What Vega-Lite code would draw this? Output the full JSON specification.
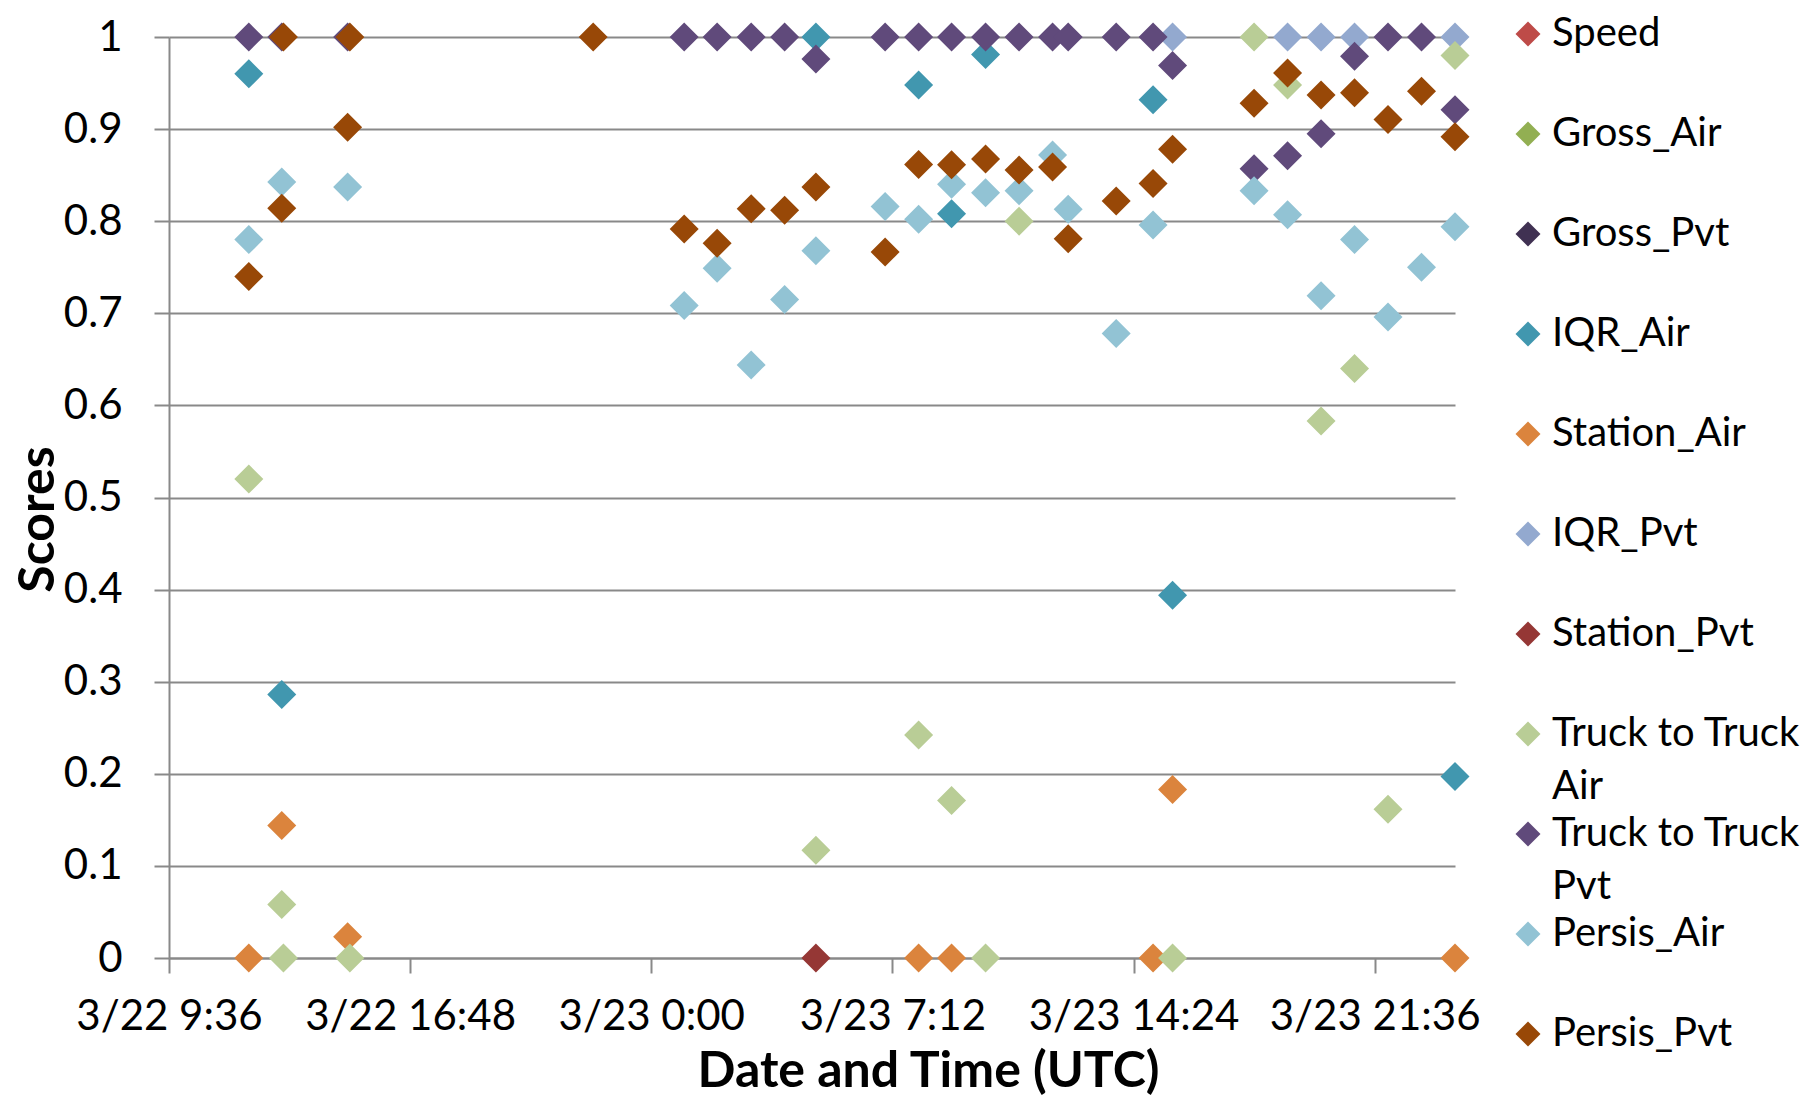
{
  "$schema": "https://vega.github.io/schema/vega-lite/v6.json",
  "width": 1286,
  "height": 921,
  "autosize": {"type": "none"},
  "padding": {"left": 169, "top": 37, "right": 361, "bottom": 138},
  "background": "white",
  "config": {"view": {"stroke": null}, "font": "Lato"},
  "data": {"values": [
    {"t": "2013-03-22T11:59:00Z", "series": "IQR_Air", "score": 0.96},
    {"t": "2013-03-22T12:58:00Z", "series": "IQR_Air", "score": 0.286},
    {"t": "2013-03-23T04:55:00Z", "series": "IQR_Air", "score": 1.0},
    {"t": "2013-03-23T07:59:00Z", "series": "IQR_Air", "score": 0.948},
    {"t": "2013-03-23T08:58:00Z", "series": "IQR_Air", "score": 0.808},
    {"t": "2013-03-23T09:59:00Z", "series": "IQR_Air", "score": 0.981},
    {"t": "2013-03-23T14:59:00Z", "series": "IQR_Air", "score": 0.932},
    {"t": "2013-03-23T15:34:00Z", "series": "IQR_Air", "score": 0.394},
    {"t": "2013-03-24T00:00:00Z", "series": "IQR_Air", "score": 0.197},

    {"t": "2013-03-22T11:59:00Z", "series": "Station_Air", "score": 0},
    {"t": "2013-03-22T12:58:00Z", "series": "Station_Air", "score": 0.144},
    {"t": "2013-03-22T14:56:00Z", "series": "Station_Air", "score": 0.023},
    {"t": "2013-03-23T07:59:00Z", "series": "Station_Air", "score": 0},
    {"t": "2013-03-23T08:58:00Z", "series": "Station_Air", "score": 0},
    {"t": "2013-03-23T14:59:00Z", "series": "Station_Air", "score": 0},
    {"t": "2013-03-23T15:34:00Z", "series": "Station_Air", "score": 0.183},
    {"t": "2013-03-24T00:00:00Z", "series": "Station_Air", "score": 0},

    {"t": "2013-03-23T15:34:00Z", "series": "IQR_Pvt", "score": 1.0},
    {"t": "2013-03-23T19:00:00Z", "series": "IQR_Pvt", "score": 1.0},
    {"t": "2013-03-23T20:00:00Z", "series": "IQR_Pvt", "score": 1.0},
    {"t": "2013-03-23T21:00:00Z", "series": "IQR_Pvt", "score": 1.0},
    {"t": "2013-03-24T00:00:00Z", "series": "IQR_Pvt", "score": 1.0},

    {"t": "2013-03-23T04:55:00Z", "series": "Station_Pvt", "score": 0},

    {"t": "2013-03-22T11:59:00Z", "series": "Truck to Truck Air", "score": 0.52},
    {"t": "2013-03-22T12:58:00Z", "series": "Truck to Truck Air", "score": 0.058},
    {"t": "2013-03-22T13:01:00Z", "series": "Truck to Truck Air", "score": 0},
    {"t": "2013-03-22T15:00:00Z", "series": "Truck to Truck Air", "score": 0},
    {"t": "2013-03-23T04:55:00Z", "series": "Truck to Truck Air", "score": 0.117},
    {"t": "2013-03-23T07:59:00Z", "series": "Truck to Truck Air", "score": 0.242},
    {"t": "2013-03-23T08:58:00Z", "series": "Truck to Truck Air", "score": 0.171},
    {"t": "2013-03-23T09:59:00Z", "series": "Truck to Truck Air", "score": 0},
    {"t": "2013-03-23T10:59:00Z", "series": "Truck to Truck Air", "score": 0.8},
    {"t": "2013-03-23T15:34:00Z", "series": "Truck to Truck Air", "score": 0},
    {"t": "2013-03-23T18:00:00Z", "series": "Truck to Truck Air", "score": 1.0},
    {"t": "2013-03-23T19:00:00Z", "series": "Truck to Truck Air", "score": 0.948},
    {"t": "2013-03-23T20:00:00Z", "series": "Truck to Truck Air", "score": 0.583},
    {"t": "2013-03-23T21:00:00Z", "series": "Truck to Truck Air", "score": 0.64},
    {"t": "2013-03-23T22:00:00Z", "series": "Truck to Truck Air", "score": 0.1615},
    {"t": "2013-03-24T00:00:00Z", "series": "Truck to Truck Air", "score": 0.98},

    {"t": "2013-03-22T11:59:00Z", "series": "Truck to Truck Pvt", "score": 1.0},
    {"t": "2013-03-22T12:58:00Z", "series": "Truck to Truck Pvt", "score": 1.0},
    {"t": "2013-03-22T14:56:00Z", "series": "Truck to Truck Pvt", "score": 1.0},
    {"t": "2013-03-23T00:59:00Z", "series": "Truck to Truck Pvt", "score": 1.0},
    {"t": "2013-03-23T01:58:00Z", "series": "Truck to Truck Pvt", "score": 1.0},
    {"t": "2013-03-23T02:59:00Z", "series": "Truck to Truck Pvt", "score": 1.0},
    {"t": "2013-03-23T03:59:00Z", "series": "Truck to Truck Pvt", "score": 1.0},
    {"t": "2013-03-23T04:55:00Z", "series": "Truck to Truck Pvt", "score": 0.976},
    {"t": "2013-03-23T06:59:00Z", "series": "Truck to Truck Pvt", "score": 1.0},
    {"t": "2013-03-23T07:59:00Z", "series": "Truck to Truck Pvt", "score": 1.0},
    {"t": "2013-03-23T08:58:00Z", "series": "Truck to Truck Pvt", "score": 1.0},
    {"t": "2013-03-23T09:59:00Z", "series": "Truck to Truck Pvt", "score": 1.0},
    {"t": "2013-03-23T10:59:00Z", "series": "Truck to Truck Pvt", "score": 1.0},
    {"t": "2013-03-23T11:59:00Z", "series": "Truck to Truck Pvt", "score": 1.0},
    {"t": "2013-03-23T12:27:00Z", "series": "Truck to Truck Pvt", "score": 1.0},
    {"t": "2013-03-23T13:53:00Z", "series": "Truck to Truck Pvt", "score": 1.0},
    {"t": "2013-03-23T14:59:00Z", "series": "Truck to Truck Pvt", "score": 1.0},
    {"t": "2013-03-23T15:34:00Z", "series": "Truck to Truck Pvt", "score": 0.969},
    {"t": "2013-03-23T18:00:00Z", "series": "Truck to Truck Pvt", "score": 0.857},
    {"t": "2013-03-23T19:00:00Z", "series": "Truck to Truck Pvt", "score": 0.871},
    {"t": "2013-03-23T20:00:00Z", "series": "Truck to Truck Pvt", "score": 0.895},
    {"t": "2013-03-23T21:00:00Z", "series": "Truck to Truck Pvt", "score": 0.979},
    {"t": "2013-03-23T22:00:00Z", "series": "Truck to Truck Pvt", "score": 1.0},
    {"t": "2013-03-23T23:00:00Z", "series": "Truck to Truck Pvt", "score": 1.0},
    {"t": "2013-03-24T00:00:00Z", "series": "Truck to Truck Pvt", "score": 0.921},

    {"t": "2013-03-22T11:59:00Z", "series": "Persis_Air", "score": 0.78},
    {"t": "2013-03-22T12:58:00Z", "series": "Persis_Air", "score": 0.8425},
    {"t": "2013-03-22T14:56:00Z", "series": "Persis_Air", "score": 0.837},
    {"t": "2013-03-23T00:59:00Z", "series": "Persis_Air", "score": 0.7085},
    {"t": "2013-03-23T01:58:00Z", "series": "Persis_Air", "score": 0.749},
    {"t": "2013-03-23T02:59:00Z", "series": "Persis_Air", "score": 0.644},
    {"t": "2013-03-23T03:59:00Z", "series": "Persis_Air", "score": 0.715},
    {"t": "2013-03-23T04:55:00Z", "series": "Persis_Air", "score": 0.768},
    {"t": "2013-03-23T06:59:00Z", "series": "Persis_Air", "score": 0.816},
    {"t": "2013-03-23T07:59:00Z", "series": "Persis_Air", "score": 0.802},
    {"t": "2013-03-23T08:58:00Z", "series": "Persis_Air", "score": 0.84},
    {"t": "2013-03-23T09:59:00Z", "series": "Persis_Air", "score": 0.831},
    {"t": "2013-03-23T10:59:00Z", "series": "Persis_Air", "score": 0.833},
    {"t": "2013-03-23T11:59:00Z", "series": "Persis_Air", "score": 0.872},
    {"t": "2013-03-23T12:27:00Z", "series": "Persis_Air", "score": 0.813},
    {"t": "2013-03-23T13:53:00Z", "series": "Persis_Air", "score": 0.678},
    {"t": "2013-03-23T14:59:00Z", "series": "Persis_Air", "score": 0.796},
    {"t": "2013-03-23T18:00:00Z", "series": "Persis_Air", "score": 0.833},
    {"t": "2013-03-23T19:00:00Z", "series": "Persis_Air", "score": 0.807},
    {"t": "2013-03-23T20:00:00Z", "series": "Persis_Air", "score": 0.719},
    {"t": "2013-03-23T21:00:00Z", "series": "Persis_Air", "score": 0.78},
    {"t": "2013-03-23T22:00:00Z", "series": "Persis_Air", "score": 0.696},
    {"t": "2013-03-23T23:00:00Z", "series": "Persis_Air", "score": 0.75},
    {"t": "2013-03-24T00:00:00Z", "series": "Persis_Air", "score": 0.794},

    {"t": "2013-03-22T11:59:00Z", "series": "Persis_Pvt", "score": 0.74},
    {"t": "2013-03-22T12:58:00Z", "series": "Persis_Pvt", "score": 0.814},
    {"t": "2013-03-22T13:01:00Z", "series": "Persis_Pvt", "score": 1.0},
    {"t": "2013-03-22T14:56:00Z", "series": "Persis_Pvt", "score": 0.902},
    {"t": "2013-03-22T15:00:00Z", "series": "Persis_Pvt", "score": 1.0},
    {"t": "2013-03-22T22:16:00Z", "series": "Persis_Pvt", "score": 1.0},
    {"t": "2013-03-23T00:59:00Z", "series": "Persis_Pvt", "score": 0.7915},
    {"t": "2013-03-23T01:58:00Z", "series": "Persis_Pvt", "score": 0.776},
    {"t": "2013-03-23T02:59:00Z", "series": "Persis_Pvt", "score": 0.8135},
    {"t": "2013-03-23T03:59:00Z", "series": "Persis_Pvt", "score": 0.812},
    {"t": "2013-03-23T04:55:00Z", "series": "Persis_Pvt", "score": 0.837},
    {"t": "2013-03-23T06:59:00Z", "series": "Persis_Pvt", "score": 0.7665},
    {"t": "2013-03-23T07:59:00Z", "series": "Persis_Pvt", "score": 0.8616},
    {"t": "2013-03-23T08:58:00Z", "series": "Persis_Pvt", "score": 0.8613},
    {"t": "2013-03-23T09:59:00Z", "series": "Persis_Pvt", "score": 0.8675},
    {"t": "2013-03-23T10:59:00Z", "series": "Persis_Pvt", "score": 0.8555},
    {"t": "2013-03-23T11:59:00Z", "series": "Persis_Pvt", "score": 0.8588},
    {"t": "2013-03-23T12:27:00Z", "series": "Persis_Pvt", "score": 0.781},
    {"t": "2013-03-23T13:53:00Z", "series": "Persis_Pvt", "score": 0.822},
    {"t": "2013-03-23T14:59:00Z", "series": "Persis_Pvt", "score": 0.841},
    {"t": "2013-03-23T15:34:00Z", "series": "Persis_Pvt", "score": 0.878},
    {"t": "2013-03-23T18:00:00Z", "series": "Persis_Pvt", "score": 0.928},
    {"t": "2013-03-23T19:00:00Z", "series": "Persis_Pvt", "score": 0.961},
    {"t": "2013-03-23T20:00:00Z", "series": "Persis_Pvt", "score": 0.937},
    {"t": "2013-03-23T21:00:00Z", "series": "Persis_Pvt", "score": 0.9395},
    {"t": "2013-03-23T22:00:00Z", "series": "Persis_Pvt", "score": 0.9105},
    {"t": "2013-03-23T23:00:00Z", "series": "Persis_Pvt", "score": 0.941},
    {"t": "2013-03-24T00:00:00Z", "series": "Persis_Pvt", "score": 0.8917}
  ]},
  "mark": {"type": "point", "shape": "diamond", "filled": true, "size": 841, "opacity": 1, "strokeWidth": 0},
  "encoding": {
    "x": {
      "field": "t",
      "type": "temporal",
      "scale": {
        "type": "utc",
        "nice": false,
        "domain": [
          {"year": 2013, "month": 3, "date": 22, "hours": 9, "minutes": 36, "utc": true},
          {"year": 2013, "month": 3, "date": 24, "hours": 0, "minutes": 0, "utc": true}
        ]
      },
      "axis": {
        "values": [
          {"year": 2013, "month": 3, "date": 22, "hours": 9, "minutes": 36, "utc": true},
          {"year": 2013, "month": 3, "date": 22, "hours": 16, "minutes": 48, "utc": true},
          {"year": 2013, "month": 3, "date": 23, "hours": 0, "minutes": 0, "utc": true},
          {"year": 2013, "month": 3, "date": 23, "hours": 7, "minutes": 12, "utc": true},
          {"year": 2013, "month": 3, "date": 23, "hours": 14, "minutes": 24, "utc": true},
          {"year": 2013, "month": 3, "date": 23, "hours": 21, "minutes": 36, "utc": true}
        ],
        "labelExpr": "utcFormat(datum.value, '%-m/%-d %-H:%M')",
        "grid": false,
        "domainColor": "#898989",
        "domainWidth": 2,
        "tickColor": "#898989",
        "tickWidth": 2,
        "tickSize": 15,
        "labelFont": "Lato",
        "labelFontSize": 42,
        "labelColor": "black",
        "labelPadding": 23,
        "labelLimit": 400,
        "labelOverlap": false,
        "labelFlush": false,
        "title": "Date and Time (UTC)",
        "titleFont": "Lato",
        "titleFontSize": 50,
        "titleFontWeight": "bold",
        "titleColor": "black",
        "titleX": 759,
        "titleY": 128,
        "titleAlign": "center",
        "titleBaseline": "alphabetic"
      }
    },
    "y": {
      "field": "score",
      "type": "quantitative",
      "scale": {"domain": [0, 1], "nice": false, "zero": false},
      "axis": {
        "values": [0, 0.1, 0.2, 0.3, 0.4, 0.5, 0.6, 0.7, 0.8, 0.9, 1],
        "format": "~g",
        "grid": true,
        "gridColor": "#898989",
        "gridWidth": 2,
        "domainColor": "#898989",
        "domainWidth": 2,
        "tickColor": "#898989",
        "tickWidth": 2,
        "tickSize": 15,
        "labelFont": "Lato",
        "labelFontSize": 42,
        "labelColor": "black",
        "labelPadding": 32,
        "title": "Scores",
        "titleFont": "Lato",
        "titleFontSize": 50,
        "titleFontWeight": "bold",
        "titleColor": "black",
        "titleX": -131,
        "titleY": 482,
        "titleAngle": -90,
        "titleAlign": "center",
        "titleBaseline": "middle"
      }
    },
    "color": {
      "field": "series",
      "type": "nominal",
      "scale": {
        "domain": ["Speed", "Gross_Air", "Gross_Pvt", "IQR_Air", "Station_Air", "IQR_Pvt", "Station_Pvt", "Truck to Truck Air", "Truck to Truck Pvt", "Persis_Air", "Persis_Pvt"],
        "range": ["#BE4B48", "#92AF52", "#403152", "#4197AF", "#DB843D", "#93A9CF", "#953735", "#B9CD96", "#604A7B", "#92C3D4", "#984807"]
      },
      "legend": {
        "title": null,
        "orient": "none",
        "direction": "vertical",
        "legendX": 1339,
        "legendY": -23,
        "padding": 0,
        "symbolType": "diamond",
        "symbolSize": 625,
        "symbolStrokeWidth": 0,
        "symbolOpacity": 1,
        "labelFont": "Lato",
        "labelFontSize": 40,
        "labelColor": "black",
        "labelLimit": 400,
        "labelOffset": 4,
        "rowPadding": 7,
        "labelExpr": "datum.label == 'Truck to Truck Air' ? ['Truck to Truck', 'Air'] : datum.label == 'Truck to Truck Pvt' ? ['Truck to Truck', 'Pvt'] : [datum.label, '']",
        "encode": {"labels": {"update": {"lineHeight": {"value": 53}}}}
      }
    }
  }
}
